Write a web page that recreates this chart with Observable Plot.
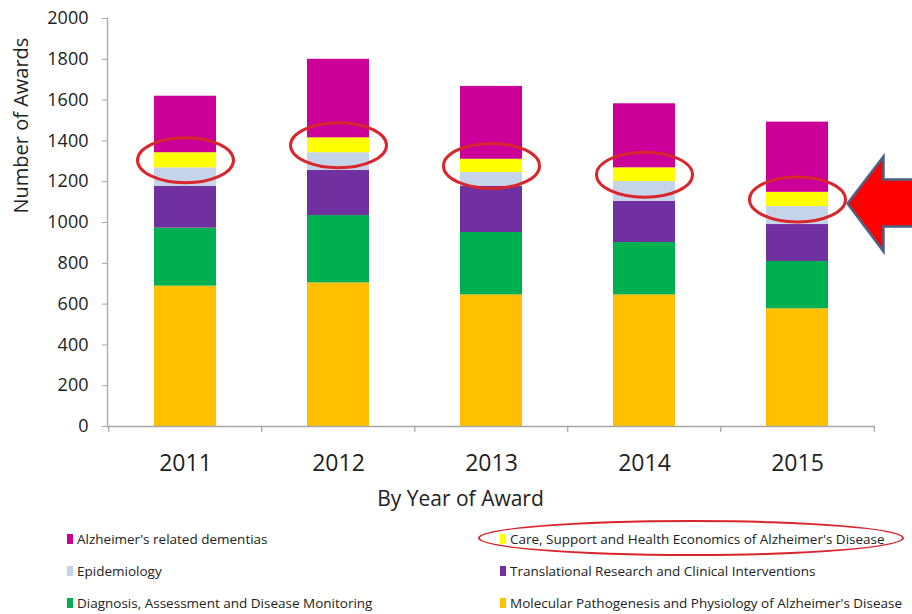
<!DOCTYPE html>
<html>
<head>
<meta charset="utf-8">
<script src="https://cdn.jsdelivr.net/npm/d3@7"></script>
<script src="https://cdn.jsdelivr.net/npm/@observablehq/plot@0.6"></script>
<style>
  html, body { margin: 0; padding: 0; background: #fff; }
  body { width: 912px; height: 614px; position: relative; overflow: hidden; font-family: "Open Sans", sans-serif; }
  #legend { position: absolute; left: 0; top: 523px; width: 912px; }
  .item { position: absolute; display: flex; align-items: center; font-size: 13.5px; color: #222; white-space: nowrap; }
  .sw { width: 6px; height: 10px; margin-right: 4px; display: inline-block; }
  #ring { position: absolute; left: 478px; top: 520px; width: 422px; height: 32px; border: 2.7px solid #d9262c; border-radius: 50%; }
</style>
</head>
<body>
<div id="chart"></div>
<div id="legend"></div>
<div id="ring"></div>
<script>
const years = ["2011", "2012", "2013", "2014", "2015"];
const categories = [
  "Molecular Pathogenesis and Physiology of Alzheimer's Disease",
  "Diagnosis, Assessment and Disease Monitoring",
  "Translational Research and Clinical Interventions",
  "Epidemiology",
  "Care, Support and Health Economics of Alzheimer's Disease",
  "Alzheimer's related dementias"
];
const colors = ["#ffc000", "#00b050", "#7030a0", "#c6d4ea", "#ffff00", "#cc0099"];
const molecular = [688, 704, 645, 645, 577];
const diagnosis = [284, 330, 306, 257, 232];
const translational = [206, 221, 227, 202, 181];
const epidemiology = [90, 87, 67, 97, 88];
const care = [74, 73, 65, 67, 70];
const related = [277, 385, 357, 314, 344];
const yTicks = [0, 200, 400, 600, 800, 1000, 1200, 1400, 1600, 1800, 2000];
const highlightYear = "2015";

const series = [molecular, diagnosis, translational, epidemiology, care, related];
const rows = [];
years.forEach((yr, i) => {
  series.forEach((s, j) => rows.push({year: yr, category: categories[j], value: s[i]}));
});
// midpoint of the highlighted "Care" segment in each bar
const careMid = years.map((yr, i) => ({
  year: yr,
  y: molecular[i] + diagnosis[i] + translational[i] + epidemiology[i] + care[i] / 2
}));

const W = 912, H = 518, ML = 107, MR = 37, MT = 18, MB = H - 426;
const bw = (W - ML - MR) / years.length;

const ellipse = {
  draw(ctx) {
    const rx = 48, ry = 22.5, k = 0.5523;
    ctx.moveTo(rx, 0);
    ctx.bezierCurveTo(rx, ry * k, rx * k, ry, 0, ry);
    ctx.bezierCurveTo(-rx * k, ry, -rx, ry * k, -rx, 0);
    ctx.bezierCurveTo(-rx, -ry * k, -rx * k, -ry, 0, -ry);
    ctx.bezierCurveTo(rx * k, -ry, rx, -ry * k, rx, 0);
    ctx.closePath();
  }
};
const arrow = {
  draw(ctx) {
    ctx.moveTo(0, 0);
    ctx.lineTo(36, -47);
    ctx.lineTo(36, -24);
    ctx.lineTo(100, -24);
    ctx.lineTo(100, 23);
    ctx.lineTo(36, 23);
    ctx.lineTo(36, 48);
    ctx.closePath();
  }
};

const chart = Plot.plot({
  width: W, height: H,
  marginLeft: ML, marginRight: MR, marginTop: MT, marginBottom: MB,
  style: {fontFamily: "'Open Sans', sans-serif", color: "#222", background: "#fff", overflow: "visible"},
  x: {domain: years, paddingInner: 0.595, paddingOuter: 0.2975, label: null},
  y: {domain: [0, 2000], label: null},
  color: {domain: categories, range: colors},
  marks: [
    Plot.barY(rows, {x: "year", y: "value", fill: "category", order: categories}),
    Plot.ruleY([0], {stroke: "#a6a6a6", strokeWidth: 1.3}),
    Plot.frame({anchor: "left", stroke: "#a6a6a6", strokeWidth: 1.3}),
    Plot.ruleX(years, {x: d => d, y1: 0, y2: -28, dx: -bw / 2, stroke: "#a6a6a6", strokeWidth: 1.3}),
    Plot.ruleX([years[years.length - 1]], {x: d => d, y1: 0, y2: -28, dx: bw / 2, stroke: "#a6a6a6", strokeWidth: 1.3}),
    Plot.axisY({ticks: yTicks, tickSize: 5, tickPadding: 14, fontSize: 18, stroke: "#a6a6a6", label: null, tickFormat: d => String(d)}),
    Plot.axisX({tickSize: 0, tickPadding: 28, fontSize: 23, label: null}),
    Plot.text(["By Year of Award"], {frameAnchor: "bottom", dy: 79, dx: -31, fontSize: 21, fill: "#222"}),
    Plot.text(["Number of Awards"], {frameAnchor: "left", rotate: -90, dx: -86, dy: -9, fontSize: 20, fill: "#222"}),
    Plot.dot(careMid, {x: "year", y: "y", symbol: ellipse, r: 10, fill: "none", stroke: "#d9262c", strokeWidth: 3}),
    Plot.dot(careMid.filter(d => d.year === highlightYear), {x: "year", y: "y", symbol: arrow, r: 10, dx: 50, dy: 4, fill: "#ff0000", stroke: "#4a6283", strokeWidth: 2.5})
  ]
});
document.getElementById("chart").appendChild(chart);

// legend: two columns, three rows (top of stack first)
const legendOrder = [
  [5, 67, 0], [4, 500, 0],
  [3, 67, 1], [2, 500, 1],
  [1, 67, 2], [0, 500, 2]
];
const legend = document.getElementById("legend");
legendOrder.forEach(([ci, left, row]) => {
  const el = document.createElement("div");
  el.className = "item";
  el.style.left = left + "px";
  el.style.top = (row * 32) + "px";
  el.style.height = "32px";
  const sw = document.createElement("span");
  sw.className = "sw";
  sw.style.background = colors[ci];
  el.appendChild(sw);
  el.appendChild(document.createTextNode(categories[ci]));
  legend.appendChild(el);
});
</script>
</body>
</html>
